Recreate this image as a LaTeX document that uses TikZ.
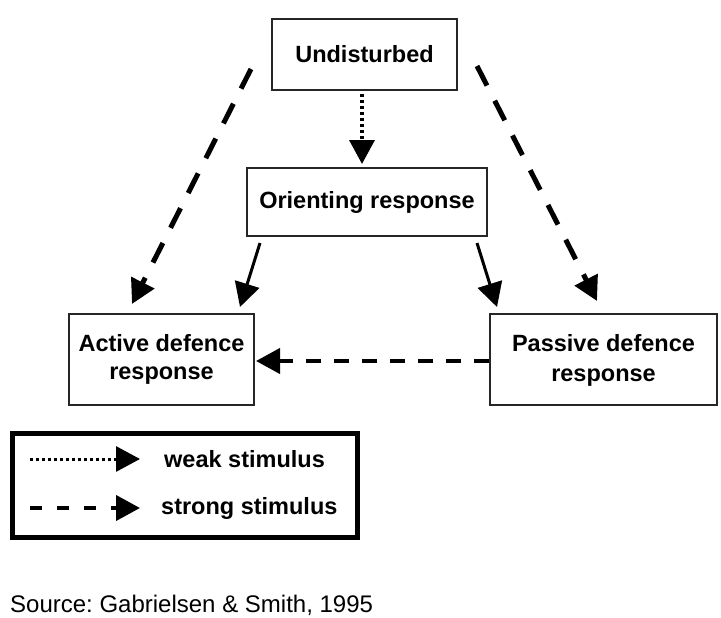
\documentclass[tikz,border=0pt]{standalone}
\usepackage{fontspec}
\setmainfont{Liberation Sans}
\usetikzlibrary{arrows.meta}
\begin{document}
\frenchspacing
\begin{tikzpicture}[x=1pt,y=-1pt,
  box/.style={draw=black!85,line width=2pt,inner sep=0pt,align=center,
    font=\bfseries\fontsize{23.5}{28}\selectfont},
  head/.style={-{Triangle[length=24pt,width=25pt]}},
  strong/.style={head,line width=5pt,dash pattern=on 22pt off 17pt},
  weak/.style={head,line width=3.5pt,dash pattern=on 3pt off 3pt},
  plain/.style={head,line width=3pt},
  flat/.style={head,line width=4pt,dash pattern=on 15pt off 13pt},
  legtext/.style={anchor=west,inner sep=0pt,font=\bfseries\fontsize{23.5}{28}\selectfont}]
\useasboundingbox[fill=white] (0,0) rectangle (721,618);

% state boxes
\node[box,minimum width=185pt,minimum height=71pt] (und) at (364.5,54.5) {Undisturbed};
\node[box,minimum width=240pt,minimum height=68pt] (ori) at (367,202) {Orienting response};
\node[box,minimum width=185pt,minimum height=91pt] (act) at (161.5,359.5) {Active defence\\response};
\node[box,minimum width=227pt,minimum height=91pt,text depth=4pt] (pas) at (603.5,359.5) {Passive defence\\[2pt]response};

% transitions
\draw[weak] ([shift={(-2.5,3)}]und.south) -- ([shift={(-5,-3)}]ori.north);
\draw[strong] ([shift={(-20,14.5)}]und.west) -- ([shift={(-29.5,-9)}]act.north);
\draw[strong] ([shift={(19,11.5)}]und.east) -- ([shift={(-6.5,-12)}]pas.north);
\draw[plain] ([shift={(14,6)}]ori.south west) -- ([shift={(-15,-6)}]act.north east);
\draw[plain] ([shift={(-11,6)}]ori.south east) -- ([shift={(8,-6)}]pas.north west);
\draw[flat] ([shift={(0,1.5)}]pas.west) -- ([shift={(1,1.5)}]act.east);

% key
\node[draw=black,line width=5pt,minimum width=345pt,minimum height=104pt,inner sep=0pt] (key) at (185,485.5) {};
\coordinate (w1) at (30,459);
\coordinate (w2) at (140,459);
\coordinate (s1) at (30,508);
\coordinate (s2) at (140,508);
\draw[weak,line width=3pt] (w1) -- (w2);
\draw[head,line width=4pt,dash pattern=on 12pt off 15pt] (s1) -- (s2);
\node[legtext] (wk) at (164,459) {weak stimulus};
\node[legtext] (st) at (161,508) {strong stimulus};

% citation
\node[anchor=west,inner sep=0pt,font=\fontsize{24}{28}\selectfont] (src) at (10,605) {Source: Gabrielsen \& Smith, 1995};
\end{tikzpicture}
\end{document}
